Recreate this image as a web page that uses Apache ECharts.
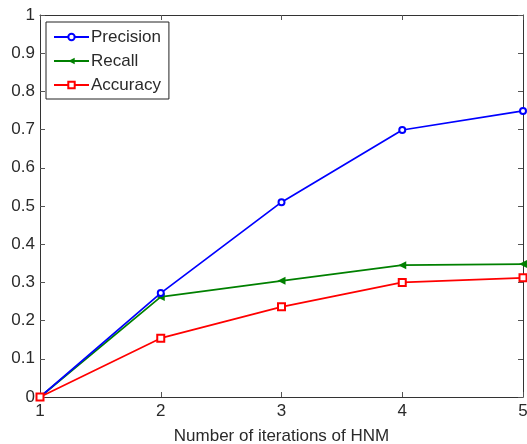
<!DOCTYPE html>
<html><head><meta charset="utf-8">
<script src="https://cdn.jsdelivr.net/npm/echarts@6/dist/echarts.min.js"></script>
<style>html,body{margin:0;padding:0;background:#fff}#c{width:527px;height:444px}</style>
</head><body><div id="c"></div>
<script>
const iterations = [1, 2, 3, 4, 5];
const precision = [0, 0.272, 0.51, 0.699, 0.749];
const recall = [0, 0.262, 0.304, 0.345, 0.348];
const accuracy = [0, 0.154, 0.236, 0.300, 0.312];
const xLabel = 'Number of iterations of HNM';

const font = 'Liberation Sans, Arial, Helvetica, sans-serif';
const axCol = '#333';
const txtCol = '#2a2a2a';
const chart = echarts.init(document.getElementById('c'));
const pair = arr => iterations.map((x, i) => [x, arr[i]]);
function axisBase(show) {
  return {
    axisLine: {show: true, onZero: false, lineStyle: {color: axCol, width: 1}},
    axisTick: {show: true, inside: true, length: 5, lineStyle: {color: '#555'}},
    splitLine: {show: false},
    axisLabel: {show: show, color: txtCol, fontFamily: font, fontSize: 17}
  };
}
chart.setOption({
  animation: false,
  backgroundColor: '#fff',
  grid: {left: 40, right: 4, top: 15, bottom: 47, outerBoundsMode: 'none'},
  xAxis: [
    Object.assign(axisBase(true), {type: 'value', min: 1, max: 5, interval: 1, position: 'bottom',
      name: xLabel, nameLocation: 'middle', nameGap: 31,
      nameTextStyle: {color: txtCol, fontFamily: font, fontSize: 17},
      axisLabel: {show: true, color: txtCol, fontFamily: font, fontSize: 17, margin: 6}}),
    Object.assign(axisBase(false), {type: 'value', min: 1, max: 5, interval: 1, position: 'top'})
  ],
  yAxis: [
    Object.assign(axisBase(true), {type: 'value', min: 0, max: 1, interval: 0.1, position: 'left',
      axisLabel: {show: true, color: txtCol, fontFamily: font, fontSize: 17, margin: 5}}),
    Object.assign(axisBase(false), {type: 'value', min: 0, max: 1, interval: 0.1, position: 'right'})
  ],
  legend: {
    orient: 'vertical', left: 46, top: 22, padding: [6, 8, 5, 7],
    itemGap: 6, itemWidth: 35, itemHeight: 8,
    backgroundColor: '#fff', borderColor: '#222', borderWidth: 1, borderRadius: 0,
    textStyle: {color: txtCol, fontFamily: font, fontSize: 17, lineHeight: 18, padding: [0, 0, 0, -3]},
    data: ['Precision', 'Recall', 'Accuracy']
  },
  series: [
    {name: 'Precision', type: 'line', data: pair(precision), symbol: 'emptyCircle', symbolSize: 6,
      color: '#0000ff', lineStyle: {width: 1.7, color: '#0000ff'}, itemStyle: {color: '#0000ff', borderWidth: 1.5}, z: 3},
    {name: 'Recall', type: 'line', data: pair(recall), symbol: 'triangle', symbolRotate: 90, symbolSize: 8,
      color: '#008000', lineStyle: {width: 1.7, color: '#008000'}, itemStyle: {color: '#008000'}, z: 2},
    {name: 'Accuracy', type: 'line', data: pair(accuracy), symbol: 'emptyRect', symbolSize: 7,
      color: '#ff0000', lineStyle: {width: 1.7, color: '#ff0000'}, itemStyle: {color: '#ff0000', borderWidth: 1.5}, z: 4}
  ]
});
</script></body></html>
